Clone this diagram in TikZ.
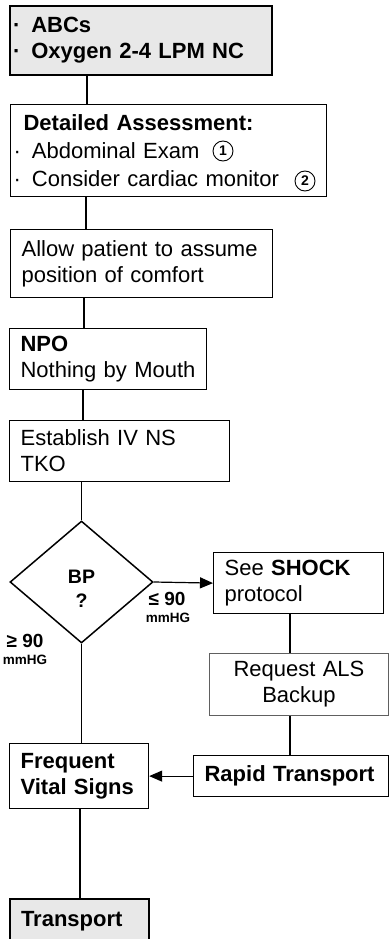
\documentclass[tikz,border=0pt]{standalone}
\usepackage{fontspec}
\setmainfont{Liberation Sans}
\usepackage{xcolor}
\usetikzlibrary{shapes.geometric,arrows.meta}

\tikzset{
  box/.style={draw, line width=1.2pt, anchor=north west, align=left, inner xsep=11pt, inner ysep=0pt, font=\fontsize{22}{26}\selectfont},
  keybox/.style={box, line width=2pt, fill=gray!18, font=\bfseries\fontsize{22}{26}\selectfont},
  softbox/.style={box, line width=0.9pt, draw=gray!75!black, align=center},
  decide/.style={diamond, draw, line width=1.5pt, align=center, inner sep=0pt, minimum width=143pt, minimum height=122pt, font=\bfseries\fontsize{19.5}{24}\selectfont},
  numcirc/.style={circle, draw, line width=0.9pt, inner sep=0pt, minimum size=20pt, font=\bfseries\fontsize{14}{14}\selectfont},
  lblbig/.style={anchor=base, inner sep=0pt, font=\bfseries\fontsize{19}{19}\selectfont},
  lblsmall/.style={anchor=base, inner sep=0pt, font=\bfseries\fontsize{13.5}{13.5}\selectfont},
  link/.style={line width=1.2pt},
  flow/.style={link, -{Triangle[length=13pt,width=11pt]}}
}
\newcommand{\dotitem}{\hspace*{-8pt}·\hspace{11pt}}

\begin{document}
\begin{tikzpicture}[x=1pt,y=1pt,yscale=-1,xscale=1]
\useasboundingbox (0,0) rectangle (389,939);

%Shape: Rectangle [ABCs]
\node[keybox, text width=240pt, minimum height=69pt] (abc) at (9,5) {\dotitem ABCs\\\dotitem Oxygen 2-4 LPM NC};
%Shape: Rectangle [assessment]
\node[box, text width=294pt, minimum height=92pt, font=\fontsize{22}{28}\selectfont] (assess) at (10,104) {\hspace*{2pt}\textbf{Detailed Assessment:}\\\dotitem Abdominal Exam\\\dotitem Consider cardiac monitor};
\node[numcirc] (n1) at (223,151) {1};
\node[numcirc] (n2) at (305,181) {2};
%Shape: Rectangle [comfort]
\node[box, text width=240pt, minimum height=68pt] (comfort) at (10,229) {Allow patient to assume\\position of comfort};
%Shape: Rectangle [NPO]
\node[box, text width=175pt, minimum height=61pt] (npo) at (9,328) {\textbf{NPO}\\Nothing by Mouth};
%Shape: Rectangle [IV]
\node[box, text width=198pt, minimum height=61pt] (iv) at (9,420) {Establish IV NS\\TKO};
%Shape: Diamond [BP]
\node[decide] (bp) at (81.5,582) {\rule{0pt}{26pt}BP\\?};
%Shape: Rectangle [shock]
\node[box, text width=148pt, minimum height=61pt] (shock) at (213,552) {See \textbf{SHOCK}\\protocol};
%Shape: Rectangle [ALS]
\node[softbox, text width=157pt, minimum height=62pt] (als) at (209,653) {Request ALS\\Backup};
%Shape: Rectangle [rapid]
\node[box, text width=173pt, minimum height=41pt, font=\bfseries\fontsize{22}{26}\selectfont] (rapid) at (193,755) {Rapid Transport};
%Shape: Rectangle [vitals]
\node[box, text width=117pt, minimum height=65pt, font=\bfseries\fontsize{22}{26}\selectfont] (vitals) at (9,743) {Frequent\\Vital Signs};
%Shape: Rectangle [transport]
\node[keybox, text width=117pt, minimum height=44pt] (transport) at (9,898) {Transport};

%Straight Lines
\draw[link] (abc.south -| 87,0) -- (assess.north -| 87,0);
\draw[link] (assess.south -| 86,0) -- (comfort.north -| 86,0);
\draw[link] (comfort.south -| 84,0) -- (npo.north -| 84,0);
\draw[link] (npo.south -| 83,0) -- (iv.north -| 83,0);
\draw[link] (iv.south -| bp.north) -- (bp.north);
\draw[flow] (bp.east) -- (shock.west);
\draw[link] (shock.south -| 290,0) -- (als.north -| 290,0);
\draw[link] (als.south -| 290,0) -- (rapid.north -| 290,0);
\draw[flow] (rapid.west) -- (vitals.east);
\draw[link] (bp.south) -- (vitals.north -| bp.south);
\draw[link] (vitals.south -| 80,0) -- (transport.north -| 80,0);

% Text Node
\node[lblbig] (le) at (167,605) {≤ 90};
\node[lblsmall] (lemm) at (168,622) {mmHG};
% Text Node
\node[lblbig] (ge) at (25,647) {≥ 90};
\node[lblsmall] (gemm) at (25,664) {mmHG};

\end{tikzpicture}
\end{document}
